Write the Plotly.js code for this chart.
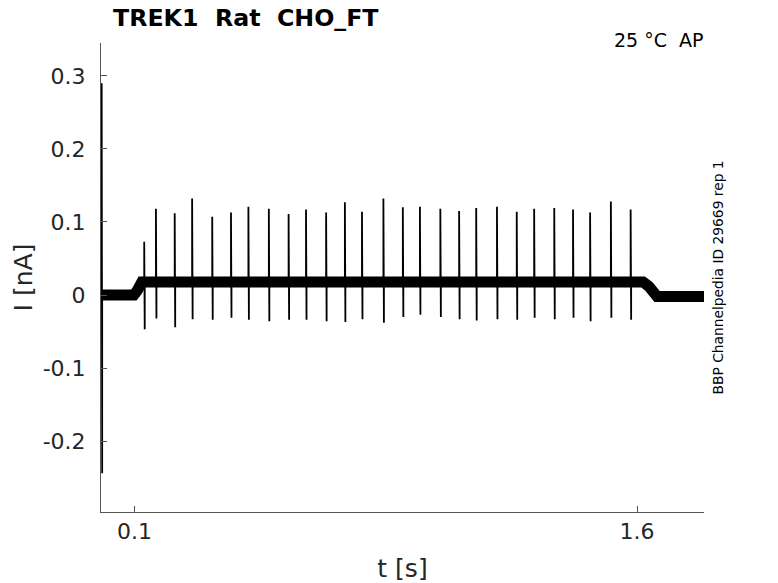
<!DOCTYPE html>
<html>
<head>
<meta charset="utf-8">
<script src="https://cdn.plot.ly/plotly-3.0.1.min.js"></script>
<style>
  body { margin: 0; background: #fff; }
  #chart { width: 778px; height: 583px; }
</style>
</head>
<body>
<div id="chart"></div>
<script>
// baseline (holding current) levels
var baseT = [0, 0.098, 0.108, 0.122, 1.618, 1.635, 1.66, 1.8];
var baseI = [0, 0, 0.006, 0.018, 0.018, 0.012, -0.002, -0.002];

// spikes: time [s], peak [nA], trough [nA]
var spikeT = [0.002, 0.129, 0.164, 0.220, 0.272, 0.332, 0.388, 0.440, 0.501, 0.560,
  0.612, 0.672, 0.728, 0.779, 0.843, 0.901, 0.952, 1.013, 1.069, 1.120,
  1.182, 1.241, 1.293, 1.353, 1.409, 1.460, 1.522, 1.581];
var spikePeak = [0.29, 0.073, 0.118, 0.112, 0.132, 0.107, 0.113, 0.121, 0.118, 0.111,
  0.117, 0.113, 0.127, 0.114, 0.132, 0.120, 0.121, 0.118, 0.115, 0.119,
  0.121, 0.114, 0.118, 0.119, 0.117, 0.113, 0.128, 0.117];
var spikeTrough = [-0.244, -0.047, -0.032, -0.044, -0.033, -0.034, -0.031, -0.034, -0.036, -0.034,
  -0.034, -0.036, -0.037, -0.033, -0.038, -0.030, -0.027, -0.030, -0.033, -0.035,
  -0.033, -0.034, -0.031, -0.033, -0.031, -0.036, -0.031, -0.034];

var yTicks = [-0.2, -0.1, 0, 0.1, 0.2, 0.3];
var yTickText = ['-0.2', '-0.1', '0', '0.1', '0.2', '0.3'];
var xTicks = [0.1, 1.6];
var xTickText = ['0.1', '1.6'];

// build the spike polyline from the arrays
var sx = [], sy = [];
for (var i = 0; i < spikeT.length; i++) {
  var b = i === 0 ? 0 : 0.018;
  sx.push(spikeT[i], spikeT[i], spikeT[i] + 0.0015, spikeT[i] + 0.0015, null);
  sy.push(b, spikePeak[i], spikeTrough[i], b, null);
}

var data = [
  {
    x: baseT, y: baseI, type: 'scatter', mode: 'lines',
    line: { color: '#000', width: 11 }, hoverinfo: 'skip'
  },
  {
    x: sx, y: sy, type: 'scatter', mode: 'lines', connectgaps: false,
    line: { color: '#000', width: 1.8 }, hoverinfo: 'skip'
  }
];

var axisFont = { family: 'DejaVu Sans', size: 22, color: '#262626' };

var layout = {
  width: 778,
  height: 583,
  margin: { l: 101, r: 74, t: 43, b: 71 },
  paper_bgcolor: '#fff',
  plot_bgcolor: '#fff',
  showlegend: false,
  font: { family: 'DejaVu Sans', color: '#000' },
  title: {
    text: 'TREK1\u00a0\u00a0Rat\u00a0\u00a0CHO_FT',
    font: { family: 'DejaVu Sans', size: 23.7, weight: 'bold', color: '#000' },
    xref: 'container', x: 113 / 778, xanchor: 'left',
    yref: 'container', y: 1 - 18 / 583, yanchor: 'middle'
  },
  xaxis: {
    range: [0, 1.8],
    tickvals: xTicks, ticktext: xTickText,
    ticks: 'inside', ticklen: 6, tickcolor: '#555', tickwidth: 1,
    showline: true, linecolor: '#555', linewidth: 1,
    showgrid: false, zeroline: false,
    tickfont: axisFont,
    title: { text: 't [s]', font: { family: 'DejaVu Sans', size: 25, color: '#262626' }, standoff: 16 }
  },
  yaxis: {
    range: [-0.297, 0.345],
    tickvals: yTicks, ticktext: yTickText,
    ticks: 'inside', ticklen: 6, tickcolor: '#555', tickwidth: 1,
    showline: true, linecolor: '#555', linewidth: 1,
    showgrid: false, zeroline: false,
    tickfont: axisFont,
    ticklabelstandoff: 10,
    title: { text: 'I [nA]', font: { family: 'DejaVu Sans', size: 25, color: '#262626' }, standoff: 2 }
  },
  annotations: [
    {
      text: '25 °C\u00a0\u00a0AP', xref: 'paper', yref: 'paper', x: 1, y: 1,
      xanchor: 'right', yanchor: 'middle', xshift: 2, yshift: 3, showarrow: false,
      font: { family: 'DejaVu Sans', size: 19, color: '#000' }
    },
    {
      text: 'BBP Channelpedia ID 29669 rep 1', xref: 'paper', yref: 'paper',
      x: (717 - 101) / 603, y: 0.5, xanchor: 'center', yanchor: 'middle',
      textangle: -90, showarrow: false,
      font: { family: 'DejaVu Sans', size: 13.8, color: '#000' }
    }
  ]
};

Plotly.newPlot('chart', data, layout, { displayModeBar: false, staticPlot: true });
</script>
</body>
</html>
